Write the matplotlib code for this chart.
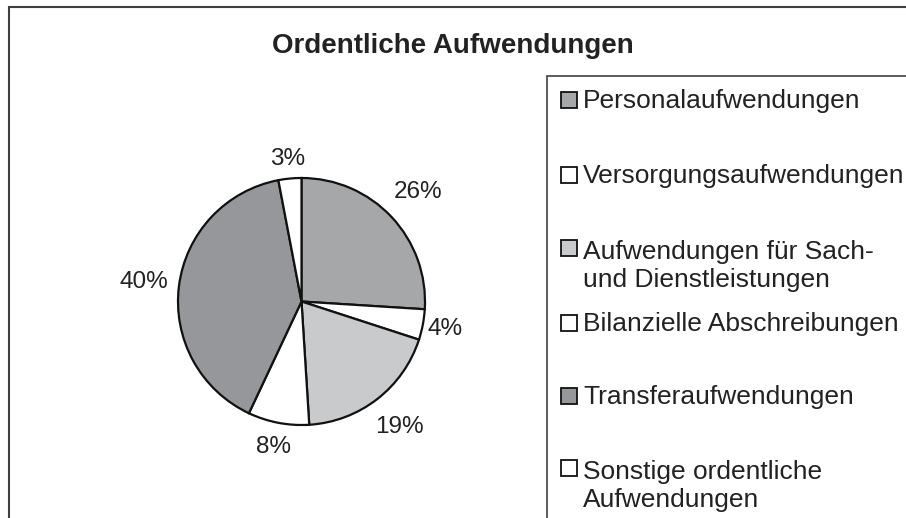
import numpy as np
import matplotlib
matplotlib.use('Agg')
import matplotlib.pyplot as plt
from matplotlib.patches import Rectangle

# Data (shares in percent, clockwise from 12 o'clock)
categories = ['Personalaufwendungen', 'Versorgungsaufwendungen',
              'Aufwendungen für Sach-\nund Dienstleistungen', 'Bilanzielle Abschreibungen',
              'Transferaufwendungen', 'Sonstige ordentliche\nAufwendungen']
shares = [26, 4, 19, 8, 40, 3]
slice_colors = ['#a6a7a9', '#ffffff', '#c9cacc', '#ffffff', '#96979a', '#ffffff']

# distance of each percent label from the centre (in radii)
label_dist = [1.30, 1.18, 1.29, 1.20, 1.29, 1.16]

W, H = 906, 518
plt.rcParams['font.family'] = ['Liberation Sans', 'DejaVu Sans']
fig = plt.figure(figsize=(W / 100, H / 100), dpi=100)
fig.patch.set_facecolor('white')


def px(x, y):
    # pixel coords (from top-left) -> figure fraction
    return x / W, 1 - y / H


# pie axes: centre (301.5, 301.5), radius 123.5 px, limits +-1.6
r_px = 123.5
lim = 1.6
side = 2 * lim * r_px
cx, cy = 301.5, 301.5
ax = fig.add_axes([(cx - side / 2) / W, (H - cy - side / 2) / H, side / W, side / H])

wedges, _ = ax.pie(shares, colors=slice_colors, startangle=90, counterclock=False,
                   wedgeprops=dict(edgecolor='#111111', linewidth=1.6))
ax.set_xlim(-lim, lim)
ax.set_ylim(-lim, lim)
ax.set_aspect('equal')
ax.axis('off')

for w, v, d in zip(wedges, shares, label_dist):
    mid = np.deg2rad((w.theta1 + w.theta2) / 2)
    ax.text(d * np.cos(mid), d * np.sin(mid), f'{v}%', ha='center', va='center',
            fontsize=17.5, color='#222222')

# title
fig.text(*px(453, 53), 'Ordentliche Aufwendungen', ha='center', va='baseline',
         fontsize=20, fontweight='bold', color='#222222')

# outer chart frame (runs off the right and bottom edge)
x0, y0 = px(9, 7)
fig.patches.append(Rectangle((x0, -0.1), 1.2, y0 + 0.1, transform=fig.transFigure,
                             fill=False, edgecolor='#404040', linewidth=1.5))

# legend box
lx, ly = px(547, 76)
fig.patches.append(Rectangle((lx, -0.1), 1.0, ly + 0.1, transform=fig.transFigure,
                             fill=False, edgecolor='#404040', linewidth=1.2))

# legend entries (baseline of first line, px from top)
baselines = [108, 183, 256, 331, 404, 476]
line_step = 31
for lab, col, b in zip(categories, slice_colors, baselines):
    sx, sy = px(561, b)
    fig.patches.append(Rectangle((sx, sy), 16 / W, 16 / H, transform=fig.transFigure,
                                 facecolor=col, edgecolor='#111111', linewidth=1.3))
    # va='baseline' anchors the last line, so shift down for wrapped labels
    nlines = lab.count('\n') + 1
    fig.text(*px(583, b + (nlines - 1) * line_step), lab, ha='left', va='baseline',
             fontsize=19, color='#222222', linespacing=1.2)

fig.savefig('out.png', dpi=100)
